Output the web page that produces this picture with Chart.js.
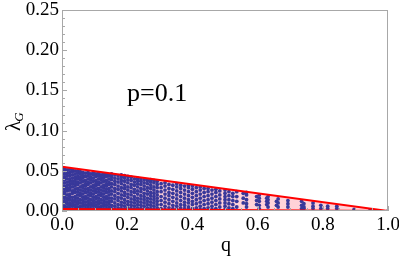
<!DOCTYPE html>
<html>
<head>
<meta charset="utf-8">
<script src="https://cdn.jsdelivr.net/npm/chart.js@4/dist/chart.umd.min.js"></script>
<style>
  body { margin: 0; background: #fff; }
  #wrap { width: 399px; height: 261px; position: relative; }
</style>
</head>
<body>
<div id="wrap"><canvas id="myScatterChart"></canvas></div>
<script>
// tick labels
const xTicks = [0, 0.2, 0.4, 0.6, 0.8, 1.0];
const yTicks = [0, 0.05, 0.10, 0.15, 0.20, 0.25];
const xMinor = [0.05, 0.1, 0.15, 0.25, 0.3, 0.35, 0.45, 0.5, 0.55, 0.65, 0.7, 0.75, 0.85, 0.9, 0.95];
const yMinor = [0.01, 0.02, 0.03, 0.04, 0.06, 0.07, 0.08, 0.09, 0.11, 0.12, 0.13, 0.14, 0.16, 0.17, 0.18, 0.19, 0.21, 0.22, 0.23, 0.24];

// bounding edges of the region (red lines)
const edgeQ = [0, 1];
const upperLam = [0.055, 0];
const lowerLam = [0.0025, 0];

// scattered points: one column per q value, lambda_G values in units of 1e-3
const dotQ = [
    0.000, 0.008, 0.016, 0.024, 0.032, 0.040, 0.048, 0.056, 0.064, 0.072,
    0.080, 0.088, 0.096, 0.104, 0.112, 0.120, 0.128, 0.136, 0.144,
    0.152, 0.162, 0.172, 0.182, 0.192, 0.202, 0.212, 0.222, 0.232, 0.242,
    0.252, 0.262, 0.272, 0.282, 0.292,
    0.304, 0.316, 0.328, 0.340, 0.352, 0.364, 0.376, 0.388, 0.400, 0.412,
    0.424, 0.436, 0.448, 0.460, 0.472, 0.484, 0.500, 0.512, 0.524, 0.536,
    0.556, 0.566, 0.597, 0.605, 0.628, 0.632, 0.658, 0.663, 0.693, 0.735,
    0.742, 0.770, 0.794, 0.815, 0.843, 0.896, 0.945, 1.000
];
const dotLam = [
    [2, 5, 9, 12, 16, 19, 23, 27, 30, 34, 38, 41, 45, 49, 53],
    [3, 6, 10, 13, 17, 21, 24, 28, 31, 35, 39, 42, 46, 50, 53],
    [2, 5, 9, 13, 16, 20, 25, 28, 32, 36, 40, 44, 47, 51],
    [3, 7, 10, 14, 18, 21, 26, 29, 33, 37, 40, 44, 48, 52],
    [2, 6, 9, 13, 17, 22, 25, 30, 34, 37, 41, 45, 49, 51],
    [3, 7, 11, 14, 18, 23, 27, 31, 34, 38, 42, 46, 50],
    [2, 5, 9, 12, 16, 20, 24, 28, 33, 36, 40, 43, 47, 50],
    [3, 6, 10, 14, 19, 22, 26, 30, 35, 39, 42, 46, 49],
    [2, 6, 9, 13, 17, 21, 25, 29, 32, 37, 41, 44, 48],
    [3, 7, 11, 15, 18, 23, 27, 31, 34, 38, 43, 47],
    [2, 5, 8, 12, 16, 20, 24, 28, 33, 36, 40, 44, 48],
    [3, 7, 10, 14, 19, 22, 26, 30, 35, 39, 42, 46],
    [2, 6, 9, 13, 17, 21, 25, 29, 32, 37, 41, 45, 48],
    [3, 7, 11, 15, 18, 23, 27, 31, 34, 38, 43, 46],
    [2, 5, 9, 12, 16, 20, 24, 28, 33, 36, 40, 44, 47],
    [3, 6, 10, 14, 19, 22, 26, 30, 35, 39, 42, 45],
    [2, 6, 9, 13, 17, 21, 25, 29, 32, 37, 41, 44, 46],
    [3, 7, 11, 15, 18, 23, 27, 31, 34, 38, 43, 46],
    [2, 5, 9, 12, 16, 20, 24, 28, 33, 36, 40, 44],
    [3, 7, 12, 16, 21, 25, 30, 34, 39, 43, 46],
    [2, 6, 10, 15, 19, 24, 28, 33, 37, 41, 45],
    [4, 8, 13, 17, 22, 27, 31, 36, 40, 44],
    [3, 7, 11, 16, 20, 25, 29, 34, 38, 42, 45],
    [2, 6, 10, 14, 19, 23, 28, 32, 37, 41, 44],
    [4, 8, 12, 17, 21, 26, 30, 35, 39, 43],
    [3, 7, 11, 15, 20, 24, 29, 33, 38, 42],
    [2, 6, 10, 14, 18, 23, 27, 32, 36, 40],
    [4, 8, 12, 16, 21, 25, 30, 34, 38, 41],
    [3, 7, 11, 15, 19, 24, 28, 33, 37, 40],
    [2, 6, 10, 14, 18, 22, 27, 31, 35, 39],
    [4, 8, 12, 16, 21, 25, 29, 34, 38],
    [3, 7, 11, 15, 19, 23, 28, 32, 36, 39],
    [2, 6, 10, 14, 18, 22, 26, 30, 35, 38],
    [4, 8, 12, 16, 20, 24, 29, 33, 37],
    [3, 8, 13, 18, 24, 29, 34],
    [2, 6, 11, 16, 21, 26, 31, 35],
    [4, 9, 14, 19, 23, 28, 33],
    [3, 7, 12, 17, 22, 27, 32],
    [2, 6, 10, 15, 20, 25, 30, 34],
    [4, 8, 13, 18, 23, 28, 32],
    [3, 7, 11, 16, 21, 26, 31],
    [2, 5, 10, 14, 19, 24, 29, 32],
    [3, 8, 12, 17, 22, 27, 31],
    [4, 9, 14, 19, 24, 29],
    [2, 6, 11, 16, 21, 26, 30],
    [3, 8, 13, 18, 23, 28],
    [4, 9, 14, 19, 24, 28],
    [2, 6, 11, 16, 21, 26],
    [3, 8, 13, 18, 23, 27],
    [5, 10, 15, 20, 25],
    [2, 6, 10, 14, 18, 22, 26],
    [4, 9, 14, 19, 24],
    [3, 8, 13, 18, 22],
    [5, 12, 18, 24],
    [10, 16, 22],
    [5, 9, 14, 20, 23],
    [8, 13, 18],
    [3, 7, 12, 16, 20],
    [8, 12, 16],
    [5, 10, 14, 18],
    [7, 12],
    [5, 10, 15],
    [5, 9, 13],
    [3, 7, 12],
    [3, 5, 9],
    [3, 6, 10],
    [3, 7],
    [3, 6],
    [3, 6],
    [2],
    [1],
    [0]
];

const dots = [];
dotQ.forEach(function (q, i) {
    dotLam[i].forEach(function (v) {
        dots.push({ x: q, y: v / 1000 });
    });
});

const serif = '"Liberation Serif"';
Chart.defaults.font.family = serif;
Chart.defaults.color = '#000';

// frame, inward ticks and the free text labels
const framePlugin = {
    id: 'frame',
    afterDraw: function (chart) {
        const ctx = chart.ctx;
        const a = chart.chartArea;
        const xs = chart.scales.x;
        const ys = chart.scales.y;
        ctx.save();
        ctx.strokeStyle = '#a8a8a8';
        ctx.lineWidth = 1;
        ctx.strokeRect(a.left + 0.5, a.top + 0.5, a.right - a.left - 1, a.bottom - a.top - 1);
        ctx.beginPath();
        xTicks.forEach(function (v) {
            const px = Math.round(xs.getPixelForValue(v)) + 0.5;
            ctx.moveTo(px, a.bottom); ctx.lineTo(px, a.bottom - 5);
        });
        xMinor.forEach(function (v) {
            const px = Math.round(xs.getPixelForValue(v)) + 0.5;
            ctx.moveTo(px, a.bottom); ctx.lineTo(px, a.bottom - 3);
        });
        yTicks.forEach(function (v) {
            const py = Math.round(ys.getPixelForValue(v)) + 0.5;
            ctx.moveTo(a.left, py); ctx.lineTo(a.left + 5, py);
        });
        yMinor.forEach(function (v) {
            const py = Math.round(ys.getPixelForValue(v)) + 0.5;
            ctx.moveTo(a.left, py); ctx.lineTo(a.left + 3, py);
        });
        ctx.stroke();

        ctx.fillStyle = '#000';
        ctx.textBaseline = 'alphabetic';
        ctx.font = '26px ' + serif;
        ctx.textAlign = 'left';
        ctx.fillText('p=0.1', 127, 101);

        ctx.font = '20px ' + serif;
        ctx.textAlign = 'center';
        ctx.fillText('q', 226, 251);

        ctx.translate(20, 131);
        ctx.rotate(-Math.PI / 2);
        ctx.textAlign = 'left';
        ctx.font = '21px ' + serif;
        ctx.fillText('λ', 0, 0);
        const w = ctx.measureText('λ').width;
        ctx.font = 'italic 13px ' + serif;
        ctx.fillText('G', w - 1, 3);
        ctx.restore();
    }
};

const scatterConfig = {
    type: 'scatter',
    data: {
        datasets: [{
            label: 'upper',
            data: edgeQ.map(function (q, i) { return { x: q, y: upperLam[i] }; }),
            showLine: true,
            borderColor: '#ff0000',
            borderWidth: 2,
            pointRadius: 0,
            backgroundColor: 'rgba(255,210,216,1)',
            fill: '+1'
        }, {
            label: 'lower',
            data: edgeQ.map(function (q, i) { return { x: q, y: lowerLam[i] }; }),
            showLine: true,
            borderColor: '#ff0000',
            borderWidth: 2,
            pointRadius: 0
        }, {
            label: 'points',
            data: dots,
            pointRadius: 1.9,
            pointBorderWidth: 0,
            pointBackgroundColor: '#38389a',
            backgroundColor: '#38389a'
        }]
    },
    options: {
        responsive: true,
        maintainAspectRatio: false,
        animation: false,
        layout: { padding: { top: 10, right: 11, left: 0, bottom: 0 } },
        scales: {
            x: {
                type: 'linear',
                min: 0,
                max: 1,
                afterFit: function (s) { s.height = 50; s.paddingLeft = 0; s.paddingRight = 0; },
                afterBuildTicks: function (s) { s.ticks = xTicks.map(function (v) { return { value: v }; }); },
                grid: { display: false, drawTicks: false },
                border: { display: false },
                ticks: {
                    padding: 3,
                    color: '#000',
                    font: { family: serif, size: 19 },
                    maxRotation: 0,
                    callback: function (v) { return Number(v).toFixed(1); }
                }
            },
            y: {
                type: 'linear',
                min: 0,
                max: 0.25,
                afterFit: function (s) { s.width = 62; s.paddingTop = 0; s.paddingBottom = 0; },
                afterBuildTicks: function (s) { s.ticks = yTicks.map(function (v) { return { value: v }; }); },
                grid: { display: false, drawTicks: false },
                border: { display: false },
                ticks: {
                    padding: 3,
                    color: '#000',
                    font: { family: serif, size: 19 },
                    callback: function (v) { return Number(v).toFixed(2); }
                }
            }
        },
        plugins: {
            legend: { display: false },
            tooltip: { enabled: false },
            filler: { drawTime: 'beforeDatasetsDraw' }
        }
    },
    plugins: [framePlugin]
};

var ctx = document.getElementById('myScatterChart');
var myScatterChart = new Chart(ctx, scatterConfig);
</script>
</body>
</html>
